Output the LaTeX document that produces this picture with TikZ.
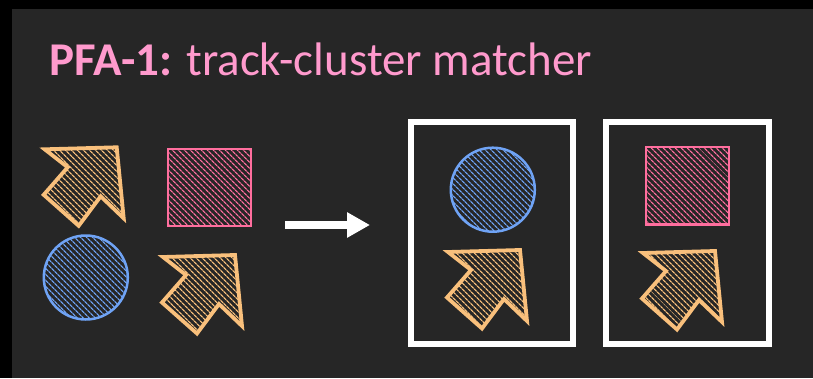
\documentclass[tikz,border=0pt]{standalone}
\usepackage{fontspec}
\setmainfont{Carlito}
\usetikzlibrary{patterns.meta,arrows.meta}

\definecolor{panel}{HTML}{262626}
\definecolor{titlepink}{HTML}{FF9ACD}
\definecolor{trackcol}{HTML}{F9C07C}
\definecolor{clustcol}{HTML}{FF6E9E}
\definecolor{photcol}{HTML}{6FA3F5}

\tikzset{
  hatch/.style={pattern={Lines[angle=-45,distance=4pt,line width=1.3pt]}, pattern color=#1},
  trackstyle/.style={draw=trackcol, line width=3.8pt, line join=miter, hatch=trackcol},
  clusterbox/.style={draw=clustcol, line width=2.5pt, hatch=clustcol},
  photonball/.style={draw=photcol, line width=2.5pt, hatch=photcol},
  groupbox/.style={draw=white, line width=6pt},
  flowarrow/.style={draw=white, line width=8pt, -{Triangle[length=23pt,width=24pt]}},
  trackarrow/.pic={
    \path[trackstyle] (0,0) -- (-72,2) -- (-49,20) -- (-73,47.5)
      -- (-38,78.5) -- (-16,49) -- (7,71) -- cycle;
  }
}

\begin{document}
\begin{tikzpicture}[x=1pt,y=-1pt]
  % frame and panel
  \fill[black] (0,0) rectangle (813,378);
  \fill[panel] (12,9) rectangle (813,378);
  \useasboundingbox (0,0) rectangle (813,378);

  % title
  \node[anchor=base west, inner sep=0pt, text=titlepink, font=\fontsize{47}{54}\selectfont]
    (title) at (49,75) {\textbf{PFA-1:} track-cluster matcher};

  % unsorted objects
  \pic (trkA) at (116.7,147.3) {trackarrow};
  \pic (trkB) at (235,255) {trackarrow};
  \path[clusterbox] (168,149) rectangle (251,226);
  \path[photonball] (85.8,277.5) circle[radius=42pt];

  % matcher step
  \coordinate (flowstart) at (285,225);
  \coordinate (flowend) at (370,225);
  \draw[flowarrow] (flowstart) -- (flowend);

  % matched groups
  \path[groupbox] (410.7,121.5) rectangle (572.8,343.5);
  \path[photonball] (492.8,189.7) circle[radius=42pt];
  \pic (trkC) at (520,250) {trackarrow};

  \path[groupbox] (606.3,122.2) rectangle (768.7,344);
  \path[clusterbox] (646,147) rectangle (729,224.7);
  \pic (trkD) at (715,251) {trackarrow};
\end{tikzpicture}
\end{document}
